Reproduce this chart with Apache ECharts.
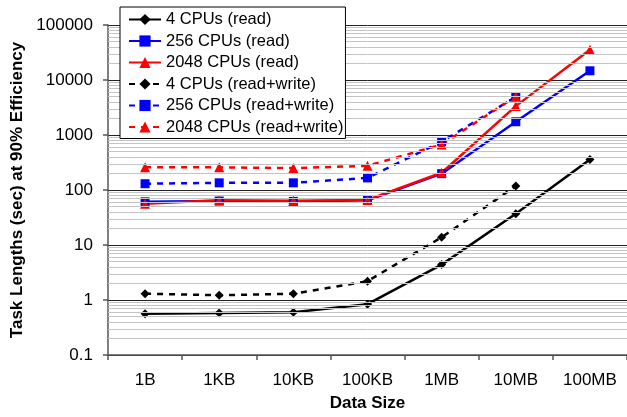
<!DOCTYPE html>
<html>
<head>
<meta charset="utf-8">
<script src="https://cdn.jsdelivr.net/npm/echarts@6/dist/echarts.min.js"></script>
<style>
html,body{margin:0;padding:0;background:#fff;}
#chart{width:627px;height:417px;}
</style>
</head>
<body>
<div id="chart"></div>
<script>
const categories = ['1B', '1KB', '10KB', '100KB', '1MB', '10MB', '100MB'];
const cpu4Read = [0.56, 0.58, 0.6, 0.84, 4.4, 37, 360];
const cpu256Read = [61, 63, 62, 65, 198, 1740, 14700];
const cpu2048Read = [56, 65, 64, 66, 206, 3350, 35600];
const cpu4RW = [1.3, 1.22, 1.3, 2.2, 13.8, 118, null];
const cpu256RW = [130, 135, 135, 166, 757, 4920, null];
const cpu2048RW = [258, 258, 250, 275, 670, 5000, null];
const yTickLabels = ['0.1', '1', '10', '100', '1000', '10000', '100000'];
const minorGridValues = [];
[0.1, 1, 10, 100, 1000, 10000].forEach(function (d) {
  for (let k = 2; k <= 9; k++) minorGridValues.push(+(d * k).toPrecision(6));
});

const FONT = 'Liberation Sans, Arial, sans-serif';
const chart = echarts.init(document.getElementById('chart'), null, {renderer: 'canvas'});

function mkSeries(name, data, color, symbol, size, dashed) {
  return {
    name: name,
    type: 'line',
    data: data,
    z: 3,
    symbol: symbol,
    symbolSize: size,
    showSymbol: true,
    connectNulls: false,
    itemStyle: {color: color},
    lineStyle: {color: color, width: 2.5, type: dashed ? [6, 6] : 'solid'},
    emphasis: {disabled: true},
    animation: false
  };
}

const option = {
  backgroundColor: '#fff',
  animation: false,
  grid: {left: 108, top: 25, width: 522, height: 337, containLabel: false},
  legend: {
    orient: 'vertical',
    left: 120,
    top: 7,
    padding: [4, 2, 3, 8],
    itemGap: 4.5,
    itemWidth: 32,
    itemHeight: 14,
    backgroundColor: '#fff',
    borderColor: '#000',
    borderWidth: 1,
    borderRadius: 0,
    z: 10,
    textStyle: {fontFamily: FONT, fontSize: 16.5, color: '#000'},
    data: ['4 CPUs (read)', '256 CPUs (read)', '2048 CPUs (read)',
           '4 CPUs (read+write)', '256 CPUs (read+write)', '2048 CPUs (read+write)']
  },
  xAxis: {
    type: 'category',
    data: categories,
    boundaryGap: true,
    name: 'Data Size',
    nameLocation: 'middle',
    nameGap: 40,
    nameTextStyle: {fontFamily: FONT, fontSize: 17, fontWeight: 'bold', color: '#000'},
    axisLine: {lineStyle: {color: '#555', width: 1.5}},
    axisTick: {show: true, length: 5, alignWithLabel: false, lineStyle: {color: '#555', width: 1.5}},
    axisLabel: {fontFamily: FONT, fontSize: 17, color: '#000', margin: 17, interval: 0},
    splitLine: {show: false}
  },
  yAxis: {
    type: 'log',
    logBase: 10,
    min: 0.1,
    max: 100000,
    name: 'Task Lengths (sec) at 90% Efficiency',
    nameLocation: 'middle',
    nameGap: 71,
    nameTextStyle: {fontFamily: FONT, fontSize: 17, fontWeight: 'bold', color: '#000'},
    axisLine: {show: true, lineStyle: {color: '#555', width: 1.5}},
    axisTick: {show: true, length: 5, lineStyle: {color: '#555', width: 1.5}},
    axisLabel: {
      fontFamily: FONT, fontSize: 17, color: '#000', margin: 15,
      formatter: function (v, i) { return yTickLabels[i] !== undefined ? yTickLabels[i] : String(v); }
    },
    splitLine: {show: true, lineStyle: {color: '#222', width: 1}}
  },
  series: [
    {
      name: 'minor-grid',
      type: 'line',
      data: categories.map(function () { return null; }),
      z: 1,
      silent: true,
      showSymbol: false,
      lineStyle: {opacity: 0},
      markLine: {
        silent: true,
        symbol: ['none', 'none'],
        label: {show: false},
        animation: false,
        lineStyle: {color: '#c4c4c4', width: 1, type: 'solid'},
        emphasis: {disabled: true},
        data: minorGridValues.map(function (v) { return {yAxis: v}; })
      }
    },
    mkSeries('4 CPUs (read)', cpu4Read, '#000000', 'diamond', 9, false),
    mkSeries('256 CPUs (read)', cpu256Read, '#0000ff', 'rect', 9, false),
    mkSeries('2048 CPUs (read)', cpu2048Read, '#ff0000', 'triangle', 10, false),
    mkSeries('4 CPUs (read+write)', cpu4RW, '#000000', 'diamond', 9, true),
    mkSeries('256 CPUs (read+write)', cpu256RW, '#0000ff', 'rect', 9, true),
    mkSeries('2048 CPUs (read+write)', cpu2048RW, '#ff0000', 'triangle', 10, true)
  ]
};
chart.setOption(option);
</script>
</body>
</html>
